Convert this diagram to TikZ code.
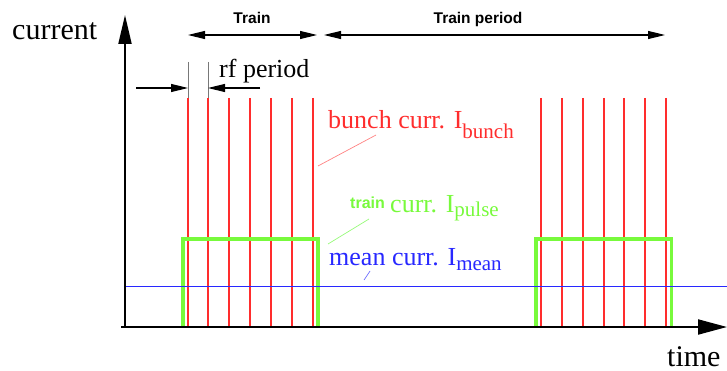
\documentclass[tikz,border=0pt]{standalone}
\usepackage{fontspec}
\setmainfont{Liberation Serif}
\setsansfont{Liberation Sans}
\usetikzlibrary{arrows.meta}
\definecolor{bred}{RGB}{255,45,45}
\definecolor{lred}{RGB}{255,130,130}
\definecolor{bgreen}{RGB}{120,250,60}
\definecolor{lgreen}{RGB}{150,250,120}
\definecolor{bblue}{RGB}{40,40,255}
\definecolor{lblue}{RGB}{110,110,255}
\definecolor{extgray}{RGB}{120,120,120}
\tikzset{
  axisline/.style={line width=2pt,black},
  bunchline/.style={line width=2pt,bred},
  pulsebox/.style={line width=3.5pt,bgreen},
  meanline/.style={line width=1pt,bblue},
  dimline/.style={line width=1.1pt,black,{Triangle[length=17pt,width=8pt]}-{Triangle[length=17pt,width=8pt]}},
  dimhalf/.style={line width=1.1pt,black,-{Triangle[length=17pt,width=8pt]}},
  extline/.style={line width=0.7pt,extgray},
  serlbl/.style={inner sep=0pt,font=\fontsize{26}{30}\selectfont},
  biglbl/.style={inner sep=0pt,font=\fontsize{30}{34}\selectfont},
  sanslbl/.style={inner sep=0pt,font=\sffamily\bfseries\fontsize{15.5}{18}\selectfont},
}
\newcommand{\subtxt}[2]{\raisebox{-#1pt}{\fontsize{21}{21}\selectfont #2}}
\begin{document}
\begin{tikzpicture}[x=1pt,y=-1pt]
\useasboundingbox (0,0) rectangle (727,371);
% axes
\coordinate (O) at (125,327);
\coordinate (Ox) at (121,327);
\coordinate (ytip) at (125,15);
\coordinate (xtip) at (727,327);
% bunches
\foreach \x in {187.5,208.3,229.2,250,270.8,291.7,312.5,541,562,582.8,603.5,624.2,645,666}
  \draw[bunchline] (\x,98) -- (\x,327);
% train pulses
\draw[pulsebox] (183,327) -- (183,239) -- (318,239) -- (318,327);
\draw[pulsebox] (536,327) -- (536,239) -- (671.5,239) -- (671.5,327);
% mean
\coordinate (mL) at (125,286);
\coordinate (mR) at (727,286);
\draw[meanline] (mL) -- (mR);
% axes on top
\draw[axisline,-{Triangle[length=29pt,width=13pt]}] (O) -- (ytip);
\draw[axisline,-{Triangle[length=29pt,width=15pt]}] (Ox) -- (xtip);
\node[biglbl,anchor=base west] (cur) at (12,40) {current};
\node[biglbl,anchor=base west] (tim) at (667,366) {time};
% Train dims
\coordinate (tL) at (188,35);
\coordinate (tR) at (317,35);
\coordinate (pL) at (324,35);
\coordinate (pR) at (665,35);
\draw[dimline] (tL) -- (tR);
\draw[dimline] (pL) -- (pR);
\node[sanslbl,anchor=base] (trn) at (252,24) {Train};
\node[sanslbl,anchor=base] (trp) at (478,24) {Train period};
% rf period
\coordinate (e1t) at (188,62);
\coordinate (e1b) at (188,98);
\coordinate (e2t) at (208,62);
\coordinate (e2b) at (208,98);
\draw[extline] (e1t) -- (e1b);
\draw[extline] (e2t) -- (e2b);
\coordinate (rfa) at (136,88);
\coordinate (rfah) at (188,88);
\coordinate (rfb) at (260,88);
\coordinate (rfbh) at (208,88);
\draw[dimhalf] (rfa) -- (rfah);
\draw[dimhalf] (rfb) -- (rfbh);
\node[serlbl,anchor=base west] (rf) at (219,78) {rf period};
% labels
\node[serlbl,anchor=base west,text=bred] (bl) at (328,129) {bunch curr. I\subtxt{10}{bunch}};
\coordinate (bp1) at (376,135);
\coordinate (bp2) at (318,166);
\draw[lred,line width=0.7pt] (bp1) -- (bp2);
\node[inner sep=0pt,anchor=base west,text=bgreen,font=\sffamily\bfseries\fontsize{16}{18}\selectfont] (tl) at (350,208) {train};
\node[serlbl,anchor=base west,text=bgreen] (pl) at (390,213) {curr. I\subtxt{4}{pulse}};
\coordinate (gp1) at (369,219);
\coordinate (gp2) at (328,244);
\draw[lgreen,line width=0.7pt] (gp1) -- (gp2);
\node[serlbl,anchor=base west,text=bblue] (ml) at (329,265) {mean curr. I\subtxt{5}{mean}};
\coordinate (mp1) at (370,271);
\coordinate (mp2) at (364,280);
\draw[lblue,line width=0.7pt] (mp1) -- (mp2);
\end{tikzpicture}
\end{document}
